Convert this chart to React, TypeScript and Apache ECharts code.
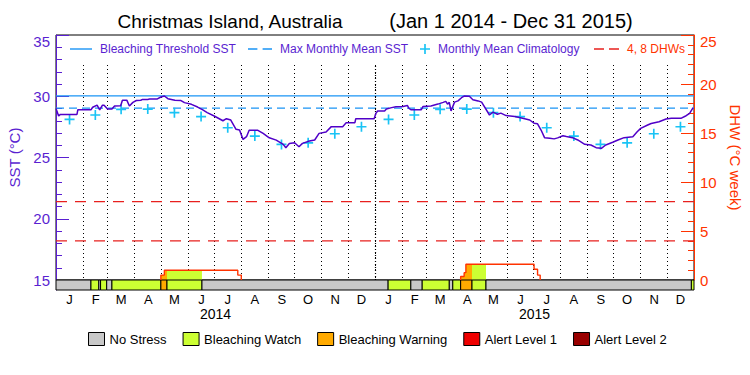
import { useEffect, useRef } from 'react';
import * as echarts from 'echarts';

const FONT = '"Liberation Sans", Arial, sans-serif';
const PURPLE = '#5a1fd1';
const SST_COLOR = '#5000c8';
const ORANGE = '#ff3300';
const BLUE = '#1a94f5';
const CYAN = '#19c3f5';
const RED = '#e8201e';

const TOTAL_DAYS = 730;
const years = ['2014', '2015'];
const monthLetters = ['J', 'F', 'M', 'A', 'M', 'J', 'J', 'A', 'S', 'O', 'N', 'D'];
const monthLengths = [
  [31, 28, 31, 30, 31, 30, 31, 31, 30, 31, 30, 31],
  [31, 28, 31, 30, 31, 30, 31, 31, 30, 31, 30, 31],
];

const maxMonthlyMean = 29.03;
const bleachingThreshold = 30.03;
const dhwLevels = [4, 8];
const climatology = [28.11, 28.47, 28.93, 28.95, 28.66, 28.34, 27.43, 26.75, 26.07, 26.2, 26.94, 27.51];

// [day since 2014-01-01, SST °C]
const sst: [number, number][] = [
  [0, 29.0], [3, 28.39], [5, 28.52], [24, 28.52], [25, 28.9], [40, 28.9], [42, 29.1], [47, 29.28], [50, 28.88],
  [53, 29.26], [55, 29.26], [59, 28.95], [64, 28.95], [67, 29.2], [74, 29.22], [76, 29.68], [81, 29.68], [84, 29.2],
  [88, 29.5], [92, 29.65], [97, 29.67], [99, 29.74], [105, 29.74], [107, 29.77], [116, 29.78], [120, 29.94],
  [124, 30.02], [128, 29.8], [136, 29.67], [143, 29.65], [147, 29.48], [155, 29.34], [162, 29.12], [168, 28.88],
  [173, 28.66], [181, 28.39], [191, 28.0], [195, 28.17], [200, 28.06], [206, 27.3], [210, 27.25], [214, 26.48],
  [218, 26.7], [221, 27.22], [231, 27.22], [237, 26.97], [244, 26.61], [252, 26.42], [260, 26.07], [263, 25.8],
  [267, 26.15], [273, 26.2], [278, 25.88], [282, 26.15], [290, 26.34], [296, 26.43], [301, 26.97], [309, 27.08],
  [315, 27.52], [328, 27.52], [332, 27.84], [342, 27.84], [343, 28.17], [364, 28.17], [366, 28.6], [368, 28.8],
  [376, 28.8], [378, 28.96], [384, 29.07], [389, 29.15], [397, 29.17], [402, 29.25], [404, 29.0], [406, 28.9],
  [418, 28.9], [420, 29.17], [429, 29.2], [437, 29.36], [443, 29.5], [446, 29.58], [448, 29.36], [450, 29.5],
  [452, 28.8], [456, 29.52], [460, 29.62], [464, 29.88], [467, 30.02], [473, 30.0], [477, 29.72], [483, 29.62],
  [487, 29.52], [496, 28.47], [500, 28.7], [505, 28.53], [509, 28.62], [515, 28.42], [525, 28.34], [534, 28.2],
  [542, 28.06], [547, 27.8], [551, 27.75], [555, 27.24], [559, 26.62], [565, 26.57], [570, 26.52], [574, 26.6],
  [580, 26.78], [584, 26.72], [591, 26.62], [597, 26.43], [605, 26.08], [612, 26.02], [618, 25.8], [624, 25.75],
  [629, 26.02], [637, 26.24], [643, 26.43], [650, 26.62], [660, 26.7], [665, 27.1], [669, 27.38], [677, 27.65],
  [681, 27.78], [690, 27.92], [698, 28.14], [704, 28.2], [715, 28.2], [721, 28.41], [725, 28.6], [729, 29.07],
];

// DHW step changes [day, value from that day on]
const dhw2014: [number, number][] = [[120, 0], [120, 0.5], [124, 1.0], [208, 0.5], [212, 0]];
const dhw2015: [number, number][] = [[463, 0], [463, 0.35], [467, 0.75], [469, 1.6], [547, 1.1], [551, 0.5], [554, 0]];

// [start day, end day, stress level index]
const stressSegments: [number, number, number][] = [
  [0, 40, 0], [40, 49, 1], [49, 51, 0], [51, 58, 1], [58, 64, 0], [64, 120, 1], [120, 127, 2], [127, 167, 1],
  [167, 380, 0], [380, 406, 1], [406, 419, 0], [419, 450, 1], [450, 454, 0], [454, 463, 1], [463, 476, 2],
  [476, 492, 1], [492, 727, 0], [727, 730, 1],
];
const stressNames = ['No Stress', 'Bleaching Watch', 'Bleaching Warning', 'Alert Level 1', 'Alert Level 2'];
const stressColors = ['#c8c8c8', '#ccff33', '#ffaa00', '#ee0000', '#990000'];

// ---- derived ----
const monthStarts: number[] = [];
const monthMids: number[] = [];
const monthLabelByDay = new Map<number, string>();
{
  let d = 0;
  monthLengths.forEach((yl) =>
    yl.forEach((len, m) => {
      monthStarts.push(d);
      monthMids.push(d + len / 2);
      monthLabelByDay.set(d + Math.floor(len / 2), monthLetters[m]);
      d += len;
    })
  );
}
const monthStartSet = new Set(monthStarts.filter((d) => d > 0));
const dayCategories = Array.from({ length: TOTAL_DAYS }, (_, i) => 'd' + i);
const climatologyPoints = monthMids.map((mid, i) => [mid, climatology[i % 12]]);
const dhwSteps = [...dhw2014, ...dhw2015];

function dhwAt(day: number) {
  let v = 0;
  for (const [x, val] of dhwSteps) if (x <= day) v = val;
  return v;
}
function dhwArea(s: number, e: number) {
  const pts: number[][] = [[s, 0]];
  let v = dhwAt(s);
  let maxV = v;
  pts.push([s, v]);
  for (const [x, val] of dhwSteps) {
    if (x > s && x < e) {
      pts.push([x, v]);
      v = val;
      maxV = Math.max(maxV, v);
      pts.push([x, v]);
    }
  }
  pts.push([e, v]);
  pts.push([e, 0]);
  return maxV > 0 ? pts : null;
}

const GRID_LEFT = 56;
const GRID_WIDTH = 638;

export default function App() {
  const ref = useRef<HTMLDivElement>(null);
  useEffect(() => {
    if (!ref.current) return;
    const chart = echarts.init(ref.current, undefined, { renderer: 'svg' });
    const lineIcon = 'path://M0,0h22v1.4h-22z';
    const dashIcon = 'path://M0,0h9v1.4h-9zM14,0h9v1.4h-9z';
    const redDashIcon = 'path://M0,0h10v1.4h-10zM15,0h10v1.4h-10z';
    const plusIcon = 'path://M4,0h1.6v9.6h-1.6zM0,4h9.6v1.6h-9.6z';
    const topLegend = (name: string, left: number, icon: string, w: number, color: string) => ({
      data: [name],
      left,
      top: 43,
      padding: 0,
      icon,
      itemWidth: w,
      itemHeight: 14,
      selectedMode: false,
      itemStyle: { borderWidth: 0, opacity: 1 },
      textStyle: { fontSize: 12, color, fontFamily: FONT, padding: [0, 0, 0, 3] },
    });

    const option: any = {
      animation: false,
      graphic: [
        {
          type: 'text', x: 230, y: 21,
          style: { text: 'Christmas Island, Australia', fontSize: 19, fontFamily: FONT, fill: '#000', align: 'center', verticalAlign: 'middle' },
        },
        {
          type: 'text', x: 511, y: 21,
          style: { text: '(Jan 1 2014 - Dec 31 2015)', fontSize: 20, fontFamily: FONT, fill: '#000', align: 'center', verticalAlign: 'middle' },
        },
      ],
      legend: [
        topLegend('Bleaching Threshold SST', 70, lineIcon, 22, PURPLE),
        topLegend('Max Monthly Mean SST', 248, dashIcon, 24, PURPLE),
        topLegend('Monthly Mean Climatology', 420, plusIcon, 10, PURPLE),
        topLegend('4, 8 DHWs', 594, redDashIcon, 25, ORANGE),
        {
          data: stressNames,
          left: 88,
          top: 332,
          padding: 0,
          icon: 'rect',
          itemWidth: 16,
          itemHeight: 13,
          itemGap: 16,
          selectedMode: false,
          itemStyle: { borderColor: '#000', borderWidth: 1, opacity: 1 },
          textStyle: { fontSize: 13, color: '#000', fontFamily: FONT },
        },
      ],
      grid: [
        { left: GRID_LEFT, width: GRID_WIDTH, top: 35, height: 245, show: true, borderColor: '#000', borderWidth: 1, backgroundColor: 'transparent', outerBoundsMode: 'none', containLabel: false },
        { left: GRID_LEFT, width: GRID_WIDTH, top: 280, height: 10, outerBoundsMode: 'none', containLabel: false },
        { left: GRID_LEFT, width: GRID_WIDTH, top: 65, height: 215, outerBoundsMode: 'none', containLabel: false },
      ],
      xAxis: [
        { type: 'value', gridIndex: 0, min: 0, max: TOTAL_DAYS, show: false },
        { type: 'value', gridIndex: 1, min: 0, max: TOTAL_DAYS, show: false },
        {
          type: 'category', gridIndex: 2, data: dayCategories, position: 'bottom', boundaryGap: true,
          axisLine: { show: false }, axisTick: { show: false },
          splitLine: { show: true, interval: (i: number) => monthStartSet.has(i), lineStyle: { color: '#000', type: [1, 3], width: 1 } },
          axisLabel: {
            interval: (i: number) => monthLabelByDay.has(i),
            formatter: (_v: string, i: number) => monthLabelByDay.get(i) ?? '',
            margin: 13, fontSize: 13, color: '#000', fontFamily: FONT,
          },
        },
        {
          type: 'category', gridIndex: 2, data: years, position: 'bottom', boundaryGap: true,
          axisLine: { show: false }, axisTick: { show: false }, splitLine: { show: false },
          axisLabel: { margin: 27, fontSize: 14, color: '#000', fontFamily: FONT },
        },
      ],
      yAxis: [
        {
          type: 'value', gridIndex: 0, position: 'left', min: 15, max: 35, interval: 5,
          name: 'SST (°C)', nameLocation: 'middle', nameGap: 32,
          nameTextStyle: { fontSize: 15, color: PURPLE, fontFamily: FONT },
          axisLine: { show: true, lineStyle: { color: PURPLE, width: 1 } },
          axisTick: { show: true, inside: true, length: 13, lineStyle: { color: PURPLE } },
          minorTick: { show: true, splitNumber: 5, length: 6, lineStyle: { color: PURPLE } },
          splitLine: { show: false },
          axisLabel: {
            margin: 6, fontSize: 15, color: PURPLE, fontFamily: FONT,
            formatter: (v: number) => (v === 35 ? '{t|35}' : String(v)),
            rich: { t: { padding: [12, 0, 0, 0], fontSize: 15, color: PURPLE, fontFamily: FONT } },
          },
        },
        {
          type: 'value', gridIndex: 0, position: 'right', min: 0, max: 25, interval: 5,
          name: 'DHW (°C week)', nameLocation: 'middle', nameGap: 30, nameRotate: -90,
          nameTextStyle: { fontSize: 15, color: ORANGE, fontFamily: FONT },
          axisLine: { show: true, lineStyle: { color: ORANGE, width: 1 } },
          axisTick: { show: true, inside: true, length: 13, lineStyle: { color: ORANGE } },
          minorTick: { show: true, splitNumber: 5, length: 6, lineStyle: { color: ORANGE } },
          splitLine: { show: false },
          axisLabel: {
            margin: 6, fontSize: 15, color: ORANGE, fontFamily: FONT,
            formatter: (v: number) => (v === 25 ? '{t|25}' : String(v)),
            rich: { t: { padding: [12, 0, 0, 0], fontSize: 15, color: ORANGE, fontFamily: FONT } },
          },
        },
        {
          type: 'value', gridIndex: 1, position: 'left', min: 0, max: 1,
          axisLine: { show: true, lineStyle: { color: PURPLE, width: 1 } },
          axisTick: { show: false }, axisLabel: { show: false }, splitLine: { show: false },
        },
        { type: 'value', gridIndex: 2, min: 0, max: 1, show: false },
      ],
      series: [
        {
          name: 'Bleaching Threshold SST', type: 'line', xAxisIndex: 0, yAxisIndex: 0,
          data: [[0, bleachingThreshold], [TOTAL_DAYS, bleachingThreshold]],
          symbol: 'none', color: BLUE, lineStyle: { color: BLUE, width: 1.2 }, silent: true, z: 3,
        },
        {
          name: 'Max Monthly Mean SST', type: 'line', xAxisIndex: 0, yAxisIndex: 0,
          data: [[0, maxMonthlyMean], [TOTAL_DAYS, maxMonthlyMean]],
          symbol: 'none', color: BLUE, lineStyle: { color: BLUE, width: 1.2, type: [8, 5] }, silent: true, z: 3,
        },
        ...dhwLevels.map((v) => ({
          name: '4, 8 DHWs', type: 'line', xAxisIndex: 0, yAxisIndex: 1,
          data: [[0, v], [TOTAL_DAYS, v]], symbol: 'none', color: RED,
          itemStyle: { color: RED },
          lineStyle: { color: RED, type: [11, 8], width: 1.2 }, silent: true, z: 3,
        })),
        {
          name: 'DHW fill', type: 'custom', xAxisIndex: 0, yAxisIndex: 1, silent: true, z: 2,
          data: stressSegments.filter((s) => s[2] > 0),
          encode: { x: [0, 1], y: 2 },
          renderItem: (_p: any, api: any) => {
            const area = dhwArea(api.value(0), api.value(1));
            if (!area) return null;
            return {
              type: 'polygon',
              shape: { points: area.map((pt) => api.coord(pt)) },
              style: { fill: stressColors[api.value(2)] },
            };
          },
        },
        ...[dhw2014, dhw2015].map((ep) => ({
          name: 'DHW', type: 'line', xAxisIndex: 0, yAxisIndex: 1, data: ep, step: 'end',
          symbol: 'none', lineStyle: { color: ORANGE, width: 1.4 }, color: ORANGE, silent: true, z: 4,
        })),
        {
          name: 'Monthly Mean Climatology', type: 'scatter', xAxisIndex: 0, yAxisIndex: 0,
          data: climatologyPoints, symbol: plusIcon, symbolSize: 10, color: CYAN,
          itemStyle: { color: CYAN, opacity: 1 }, silent: true, z: 4,
        },
        {
          name: 'SST', type: 'line', xAxisIndex: 0, yAxisIndex: 0, data: sst, symbol: 'none',
          lineStyle: { color: SST_COLOR, width: 1.5 }, color: SST_COLOR, silent: true, z: 5,
        },
        {
          name: 'Stress', type: 'custom', xAxisIndex: 1, yAxisIndex: 2, silent: true, z: 3,
          data: stressSegments, encode: { x: [0, 1], y: 2 },
          renderItem: (_p: any, api: any) => {
            const a = api.coord([api.value(0), 1]);
            const b = api.coord([api.value(1), 0]);
            return {
              type: 'rect',
              shape: { x: a[0], y: a[1], width: b[0] - a[0], height: b[1] - a[1] },
              style: { fill: stressColors[api.value(2)], stroke: '#000', lineWidth: 1 },
            };
          },
        },
        ...stressNames.map((name, i) => ({
          name, type: 'scatter', xAxisIndex: 1, yAxisIndex: 2, data: [],
          itemStyle: { color: stressColors[i], borderColor: '#000', borderWidth: 1, opacity: 1 },
        })),
        {
          name: 'Year boundary', type: 'line', xAxisIndex: 2, yAxisIndex: 3, data: [],
          markLine: {
            symbol: ['none', 'none'], silent: true, label: { show: false },
            lineStyle: { color: '#000', type: [1, 2], width: 1.2 },
            data: [{ xAxis: 365 }],
          },
        },
      ],
    };
    chart.setOption(option);
    return () => chart.dispose();
  }, []);
  return <div ref={ref} style={{ position: 'absolute', left: 0, top: 0, width: 750, height: 375 }} />;
}
